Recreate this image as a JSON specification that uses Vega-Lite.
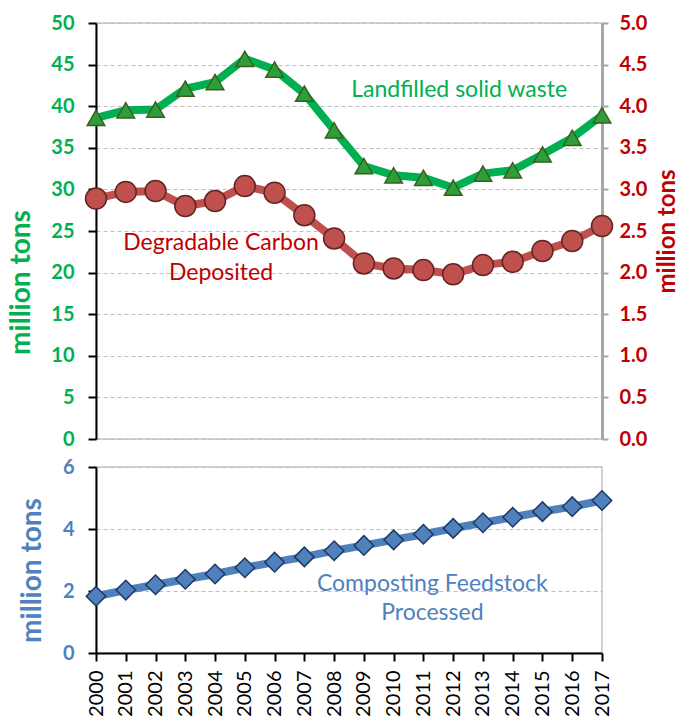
{
  "$schema": "https://vega.github.io/schema/vega-lite/v6.json",
  "padding": {"left": 7, "top": 12, "right": 0, "bottom": 0},
  "background": "white",
  "config": {
    "view": {"stroke": "#C4C4C4", "strokeWidth": 1.5},
    "font": "Lato",
    "axis": {"gridColor": "#BFBFBF", "gridDash": [4, 3], "gridWidth": 1.2}
  },
  "datasets": {
    "series": [
      {"year": 2000, "landfilled": 38.6, "carbon": 2.89, "compost": 1.83},
      {"year": 2001, "landfilled": 39.5, "carbon": 2.97, "compost": 2.03},
      {"year": 2002, "landfilled": 39.6, "carbon": 2.98, "compost": 2.2},
      {"year": 2003, "landfilled": 42.1, "carbon": 2.8, "compost": 2.38},
      {"year": 2004, "landfilled": 42.9, "carbon": 2.86, "compost": 2.55},
      {"year": 2005, "landfilled": 45.7, "carbon": 3.04, "compost": 2.75},
      {"year": 2006, "landfilled": 44.4, "carbon": 2.96, "compost": 2.93},
      {"year": 2007, "landfilled": 41.5, "carbon": 2.69, "compost": 3.1},
      {"year": 2008, "landfilled": 37.1, "carbon": 2.41, "compost": 3.3},
      {"year": 2009, "landfilled": 32.8, "carbon": 2.11, "compost": 3.47},
      {"year": 2010, "landfilled": 31.7, "carbon": 2.05, "compost": 3.65},
      {"year": 2011, "landfilled": 31.4, "carbon": 2.03, "compost": 3.83},
      {"year": 2012, "landfilled": 30.2, "carbon": 1.98, "compost": 4.02},
      {"year": 2013, "landfilled": 31.9, "carbon": 2.09, "compost": 4.2},
      {"year": 2014, "landfilled": 32.3, "carbon": 2.13, "compost": 4.38},
      {"year": 2015, "landfilled": 34.2, "carbon": 2.26, "compost": 4.56},
      {"year": 2016, "landfilled": 36.2, "carbon": 2.38, "compost": 4.72},
      {"year": 2017, "landfilled": 38.9, "carbon": 2.56, "compost": 4.92}
    ],
    "greenLabel": [{"x": 2012.2, "y": 41.9, "label": "Landfilled solid waste"}],
    "redLabel": [
      {"x": 2004.2, "y": 2.36, "label": "Degradable Carbon"},
      {"x": 2004.2, "y": 2.0, "label": "Deposited"}
    ],
    "blueLabel": [
      {"x": 2011.3, "y": 2.23, "label": "Composting Feedstock"},
      {"x": 2011.3, "y": 1.29, "label": "Processed"}
    ]
  },
  "vconcat": [
    {
      "width": 506,
      "height": 416,
      "layer": [
        {
          "layer": [
            {
              "data": {"name": "series"},
              "mark": {"type": "line", "color": "#00B050", "strokeWidth": 8},
              "encoding": {
                "x": {"field": "year", "type": "quantitative"},
                "y": {"field": "landfilled", "type": "quantitative"}
              }
            },
            {
              "data": {"name": "series"},
              "mark": {"type": "point", "shape": "triangle-up", "filled": true, "fill": "#2E9E3A", "stroke": "#3B5E1E", "strokeWidth": 1.5, "size": 310, "opacity": 1},
              "encoding": {
                "x": {"field": "year", "type": "quantitative"},
                "y": {"field": "landfilled", "type": "quantitative"}
              }
            },
            {
              "data": {"name": "greenLabel"},
              "mark": {"type": "text", "color": "#00B050", "fontSize": 23, "fontWeight": "normal", "font": "Lato", "align": "center", "baseline": "middle"},
              "encoding": {
                "x": {"field": "x", "type": "quantitative"},
                "y": {"field": "y", "type": "quantitative"},
                "text": {"field": "label"}
              }
            }
          ],
          "encoding": {
            "x": {
              "field": "year", "type": "quantitative",
              "scale": {"domain": [2000, 2017], "nice": false, "zero": false},
              "axis": null
            },
            "y": {
              "field": "landfilled", "type": "quantitative",
              "scale": {"domain": [0, 50], "nice": false},
              "axis": {
                "orient": "left", "values": [0, 5, 10, 15, 20, 25, 30, 35, 40, 45, 50],
                "domainColor": "black", "domainWidth": 2, "tickColor": "black", "tickWidth": 2, "tickSize": 8,
                "labelColor": "#00B050", "labelFont": "Lato", "labelFontSize": 20, "labelFontWeight": "bold", "labelPadding": 14,
                "title": "million tons", "titleColor": "#00B050", "titleFont": "Lato", "titleFontSize": 28, "titleFontWeight": "bold", "titlePadding": 15, "titleY": 259,
                "grid": true
              }
            }
          }
        },
        {
          "layer": [
            {
              "data": {"name": "series"},
              "mark": {"type": "line", "color": "#C0504D", "strokeWidth": 8},
              "encoding": {
                "x": {"field": "year", "type": "quantitative"},
                "y": {"field": "carbon", "type": "quantitative"}
              }
            },
            {
              "data": {"name": "series"},
              "mark": {"type": "point", "shape": "circle", "filled": true, "fill": "#C0504D", "stroke": "#632523", "strokeWidth": 1.5, "size": 440, "opacity": 1},
              "encoding": {
                "x": {"field": "year", "type": "quantitative"},
                "y": {"field": "carbon", "type": "quantitative"}
              }
            },
            {
              "data": {"name": "redLabel"},
              "mark": {"type": "text", "color": "#C00000", "fontSize": 23, "fontWeight": "normal", "font": "Lato", "align": "center", "baseline": "middle"},
              "encoding": {
                "x": {"field": "x", "type": "quantitative"},
                "y": {"field": "y", "type": "quantitative"},
                "text": {"field": "label"}
              }
            }
          ],
          "encoding": {
            "x": {
              "field": "year", "type": "quantitative",
              "scale": {"domain": [2000, 2017], "nice": false, "zero": false},
              "axis": null
            },
            "y": {
              "field": "carbon", "type": "quantitative",
              "scale": {"domain": [0, 5], "nice": false},
              "axis": {
                "orient": "right", "values": [0, 0.5, 1, 1.5, 2, 2.5, 3, 3.5, 4, 4.5, 5], "format": ".1f",
                "domainColor": "#A6A6A6", "domainWidth": 3, "tickColor": "#A6A6A6", "tickWidth": 2, "tickSize": 6,
                "labelColor": "#C00000", "labelFont": "Lato", "labelFontSize": 20, "labelFontWeight": "bold", "labelPadding": 11,
                "title": "million tons", "titleColor": "#C00000", "titleFont": "Lato", "titleFontSize": 24, "titleFontWeight": "bold", "titlePadding": 9, "titleAngle": 270, "titleBaseline": "top",
                "grid": false
              }
            }
          }
        }
      ],
      "resolve": {"scale": {"y": "independent"}, "axis": {"y": "independent"}}
    },
    {
      "width": 506,
      "height": 186,
      "layer": [
        {
          "data": {"name": "series"},
          "mark": {"type": "line", "color": "#4F81BD", "strokeWidth": 8},
          "encoding": {
            "x": {"field": "year", "type": "quantitative"},
            "y": {"field": "compost", "type": "quantitative"}
          }
        },
        {
          "data": {"name": "series"},
          "mark": {"type": "point", "shape": "diamond", "filled": true, "fill": "#4F81BD", "stroke": "#1F3864", "strokeWidth": 1.5, "size": 380, "opacity": 1},
          "encoding": {
            "x": {"field": "year", "type": "quantitative"},
            "y": {"field": "compost", "type": "quantitative"}
          }
        },
        {
          "data": {"name": "blueLabel"},
          "mark": {"type": "text", "color": "#4F81BD", "fontSize": 23, "fontWeight": "normal", "font": "Lato", "align": "center", "baseline": "middle"},
          "encoding": {
            "x": {"field": "x", "type": "quantitative"},
            "y": {"field": "y", "type": "quantitative"},
            "text": {"field": "label"}
          }
        }
      ],
      "encoding": {
        "x": {
          "field": "year", "type": "quantitative",
          "scale": {"domain": [2000, 2017], "nice": false, "zero": false},
          "axis": {
            "values": [2000, 2001, 2002, 2003, 2004, 2005, 2006, 2007, 2008, 2009, 2010, 2011, 2012, 2013, 2014, 2015, 2016, 2017],
            "format": "d", "labelAngle": 270, "labelColor": "black", "labelFont": "Lato", "labelFontSize": 20, "labelPadding": 9,
            "domainColor": "black", "domainWidth": 2, "tickColor": "black", "tickWidth": 2, "tickSize": 8,
            "title": null, "grid": false, "labelOverlap": false
          }
        },
        "y": {
          "field": "compost", "type": "quantitative",
          "scale": {"domain": [0, 6], "nice": false},
          "axis": {
            "values": [0, 2, 4, 6],
            "domainColor": "black", "domainWidth": 2, "tickColor": "black", "tickWidth": 2, "tickSize": 8,
            "labelColor": "#4F81BD", "labelFont": "Lato", "labelFontSize": 20, "labelFontWeight": "bold", "labelPadding": 14,
            "title": "million tons", "titleColor": "#4F81BD", "titleFont": "Lato", "titleFontSize": 28, "titleFontWeight": "bold", "titlePadding": 16, "titleY": 103,
            "grid": true
          }
        }
      }
    }
  ],
  "spacing": 6
}
